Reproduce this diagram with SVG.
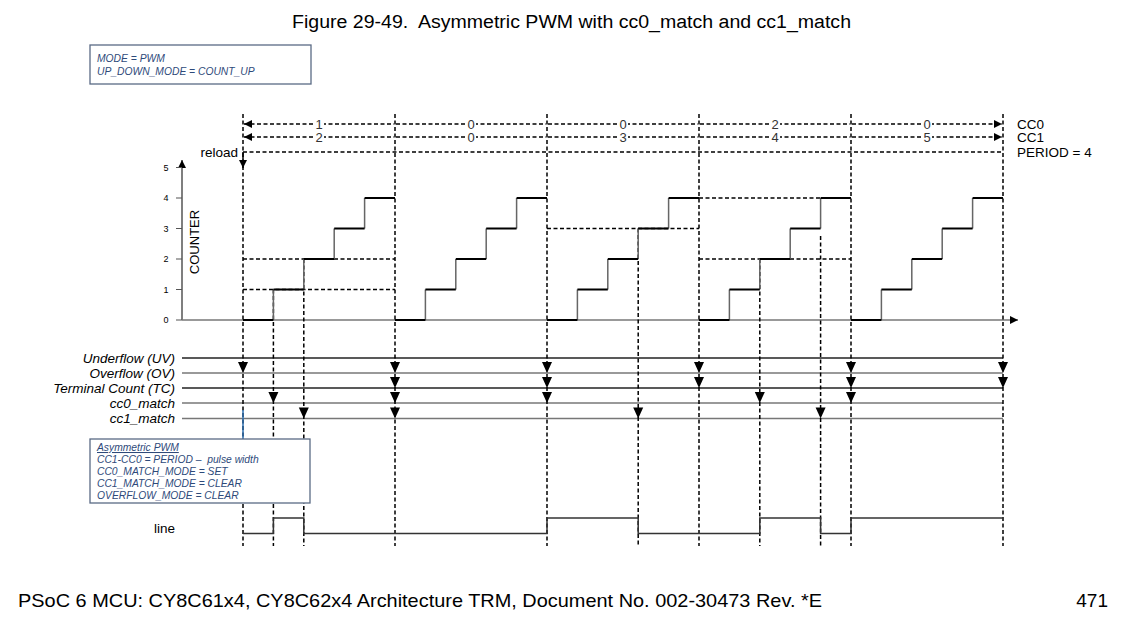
<svg xmlns="http://www.w3.org/2000/svg" xmlns:xlink="http://www.w3.org/1999/xlink" width="1127" height="638" viewBox="0 0 1127 638">
<style>
text{font-family:"Liberation Sans",Arial,sans-serif;fill:#000}
.lab{font-size:13.5px;font-style:italic;text-anchor:end}
.num{font-size:13px;fill:#333;text-anchor:middle}
.gap{fill:#fff}
.tick{font-size:9px;text-anchor:middle}
.vd{stroke:#000;stroke-width:1.5;stroke-dasharray:4 2.5;fill:none}
.hd{stroke:#000;stroke-width:1.3;stroke-dasharray:4 2.5;fill:none}
.ta{stroke:#000;stroke-width:1.3;stroke-dasharray:4 2.5;fill:none;marker-start:url(#ms);marker-end:url(#me)}
.box{fill:#fff;stroke:#5a6a85;stroke-width:1.3}
.bt{font-size:10.3px;font-style:italic;fill:#2e4a7a}
.sig{stroke-width:1.5;fill:none}
.sh{stroke:#000;stroke-width:2;fill:none}
.sv{stroke:#666;stroke-width:1.5;fill:none}
</style>
<defs>
<marker id="me" viewBox="0 0 10 10" refX="10" refY="5" markerWidth="9" markerHeight="8" markerUnits="userSpaceOnUse" orient="auto"><path d="M0,0L10,5L0,10Z" fill="#000"/></marker>
<marker id="ms" viewBox="0 0 10 10" refX="0" refY="5" markerWidth="9" markerHeight="8" markerUnits="userSpaceOnUse" orient="auto"><path d="M10,0L0,5L10,10Z" fill="#000"/></marker>
<path id="ah" d="M-5,-11L5,-11L0,0Z" fill="#000"/>
<rect id="gp" class="gap" x="-5" y="-5.5" width="10" height="11"/>
<g id="stair">
<path class="sv" d="M30.4 320V289.5M60.8 289.5V259M91.2 259V228.5M121.6 228.5V198"/>
<path class="sh" d="M0 320H30.4M30.4 289.5H60.8M60.8 259H91.2M91.2 228.5H121.6M121.6 198H152"/>
</g>
</defs>
<rect width="1127" height="638" fill="#fff"/>
<text x="292" y="28" font-size="18" xml:space="preserve" textLength="559" lengthAdjust="spacingAndGlyphs">Figure 29-49.  Asymmetric PWM with cc0_match and cc1_match</text>

<g id="mode-box">
<rect class="box" x="90" y="45" width="221" height="39"/>
<text class="bt" x="97" y="62">MODE = PWM</text>
<text class="bt" x="97" y="75">UP_DOWN_MODE = COUNT_UP</text>
</g>

<g id="axes">
<path d="M182 320V160" stroke="#555" stroke-width="1.5" marker-end="url(#me)"/>
<path d="M182 320H1018" stroke="#777" stroke-width="1.5" marker-end="url(#me)"/>
<path d="M176 320H182M176 289.5H182M176 259H182M176 228.5H182M176 198H182M176 167.5H182" stroke="#555" stroke-width="1.2"/>
<text class="tick" x="166" y="323">0</text>
<text class="tick" x="166" y="292.5">1</text>
<text class="tick" x="166" y="262">2</text>
<text class="tick" x="166" y="231.5">3</text>
<text class="tick" x="166" y="201">4</text>
<text class="tick" x="166" y="170.5">5</text>
<text x="199" y="242" font-size="13" text-anchor="middle" transform="rotate(-90 199 242)">COUNTER</text>
</g>

<g id="signals">
<path class="sig" stroke="#222" d="M182 358H1003"/>
<path class="sig" stroke="#777" d="M182 373H1003"/>
<path class="sig" stroke="#222" d="M182 388H1003"/>
<path class="sig" stroke="#777" d="M182 403H1003"/>
<path class="sig" stroke="#777" d="M182 418.5H1003"/>
<text class="lab" x="175" y="362.5">Underflow (UV)</text>
<text class="lab" x="175" y="377.5">Overflow (OV)</text>
<text class="lab" x="175" y="392.5">Terminal Count (TC)</text>
<text class="lab" x="175" y="407.5">cc0_match</text>
<text class="lab" x="175" y="423">cc1_match</text>
</g>

<g id="dashed-guides">
<path class="vd" d="M243 114V546M395 114V546M547 114V546M699 114V546M851 114V546M1003 114V546"/>
<path class="vd" d="M273.4 289.5V546M303.8 259V546M638.2 228.5V546M759.8 259V546M820.6 236V546"/>
<path class="hd" d="M243 289.5H395M243 259H395M547 228.5H699M699 198H851M699 259H851"/>
<path class="hd" d="M243 152H1003"/>
</g>

<g id="counter">
<use xlink:href="#stair" x="243"/>
<use xlink:href="#stair" x="395"/>
<use xlink:href="#stair" x="547"/>
<use xlink:href="#stair" x="699"/>
<use xlink:href="#stair" x="851"/>
</g>

<g id="connectors">
<path class="ta" d="M244 124H394M396 124H546M548 124H698M700 124H850M852 124H1002"/>
<path class="ta" d="M244 137H394M396 137H546M548 137H698M700 137H850M852 137H1002"/>
<path d="M243 152V168" stroke="#000" stroke-width="1.5" marker-end="url(#me)"/>
<use xlink:href="#ah" x="243" y="373"/>
<use xlink:href="#ah" x="273.4" y="403"/>
<use xlink:href="#ah" x="303.8" y="418.5"/>
<use xlink:href="#ah" x="395" y="373"/>
<use xlink:href="#ah" x="395" y="388"/>
<use xlink:href="#ah" x="395" y="403"/>
<use xlink:href="#ah" x="395" y="418.5"/>
<use xlink:href="#ah" x="547" y="373"/>
<use xlink:href="#ah" x="547" y="388"/>
<use xlink:href="#ah" x="547" y="403"/>
<use xlink:href="#ah" x="638.2" y="418.5"/>
<use xlink:href="#ah" x="699" y="373"/>
<use xlink:href="#ah" x="699" y="388"/>
<use xlink:href="#ah" x="759.8" y="403"/>
<use xlink:href="#ah" x="820.6" y="418.5"/>
<use xlink:href="#ah" x="851" y="373"/>
<use xlink:href="#ah" x="851" y="388"/>
<use xlink:href="#ah" x="851" y="403"/>
<use xlink:href="#ah" x="1003" y="373"/>
<use xlink:href="#ah" x="1003" y="388"/>
</g>

<g id="top-labels">
<use xlink:href="#gp" x="319" y="124"/>
<use xlink:href="#gp" x="471" y="124"/>
<use xlink:href="#gp" x="623" y="124"/>
<use xlink:href="#gp" x="775" y="124"/>
<use xlink:href="#gp" x="927" y="124"/>
<use xlink:href="#gp" x="319" y="137"/>
<use xlink:href="#gp" x="471" y="137"/>
<use xlink:href="#gp" x="623" y="137"/>
<use xlink:href="#gp" x="775" y="137"/>
<use xlink:href="#gp" x="927" y="137"/>
<text class="num" x="319" y="128.5">1</text>
<text class="num" x="471" y="128.5">0</text>
<text class="num" x="623" y="128.5">0</text>
<text class="num" x="775" y="128.5">2</text>
<text class="num" x="927" y="128.5">0</text>
<text class="num" x="319" y="141.5">2</text>
<text class="num" x="471" y="141.5">0</text>
<text class="num" x="623" y="141.5">3</text>
<text class="num" x="775" y="141.5">4</text>
<text class="num" x="927" y="141.5">5</text>
<text x="1017" y="128.5" font-size="13.5">CC0</text>
<text x="1017" y="141.5" font-size="13.5">CC1</text>
<text x="1017" y="156.5" font-size="13.5">PERIOD = 4</text>
<text x="238" y="156.5" font-size="13.5" text-anchor="end">reload</text>
</g>

<g id="callout">
<path d="M243 410V439" stroke="#2e6fb0" stroke-width="1.5"/>
<rect class="box" x="90" y="439" width="220" height="64"/>
<text class="bt" x="97" y="451" text-decoration="underline">Asymmetric PWM</text>
<text class="bt" x="97" y="463" xml:space="preserve">CC1-CC0 = PERIOD –  pulse width</text>
<text class="bt" x="97" y="475">CC0_MATCH_MODE = SET</text>
<text class="bt" x="97" y="487">CC1_MATCH_MODE = CLEAR</text>
<text class="bt" x="97" y="499">OVERFLOW_MODE = CLEAR</text>
</g>

<g id="line-wave">
<text x="175" y="532.5" font-size="13.5" text-anchor="end">line</text>
<path d="M243 533.5H273.4V518H303.8V533.5H547V518H638.2V533.5H759.8V518H820.6V533.5H851V518H1003" stroke="#333" stroke-width="1.5" fill="none"/>
</g>

<text x="18" y="607" font-size="19" textLength="804" lengthAdjust="spacingAndGlyphs">PSoC 6 MCU: CY8C61x4, CY8C62x4 Architecture TRM, Document No. 002-30473 Rev. *E</text>
<text x="1108" y="607" font-size="19" text-anchor="end">471</text>
</svg>
